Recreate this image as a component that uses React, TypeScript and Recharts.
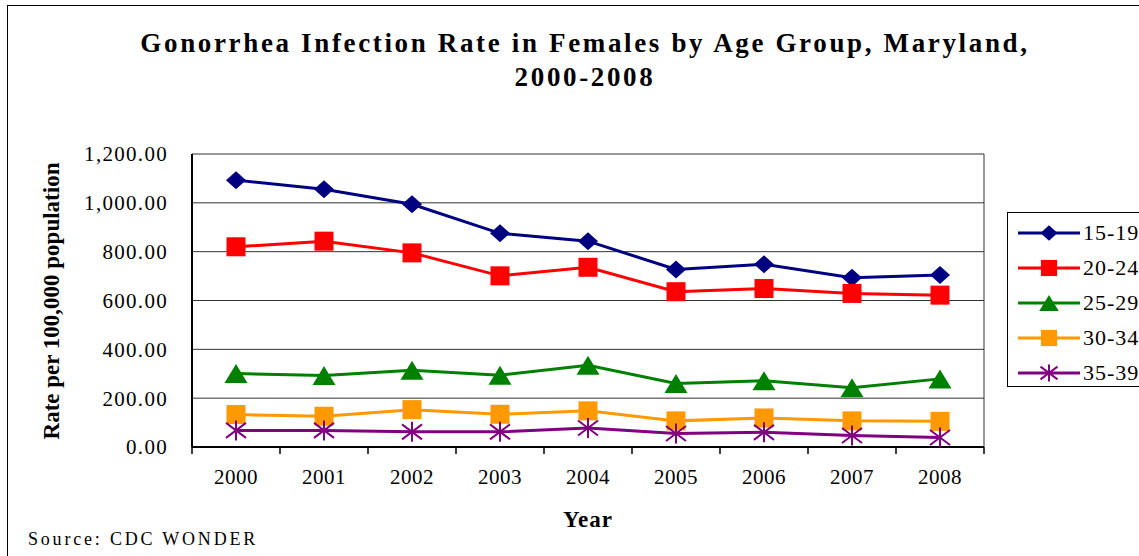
import React from 'react';
import { LineChart, Line, XAxis, YAxis, CartesianGrid } from 'recharts';

const years = ['2000', '2001', '2002', '2003', '2004', '2005', '2006', '2007', '2008'];
const rate15to19 = [1093, 1056, 994, 875, 843, 727, 748, 693, 704];
const rate20to24 = [820, 843, 795, 701, 736, 636, 649, 629, 622];
const rate25to29 = [301, 293, 314, 294, 335, 260, 271, 243, 279];
const rate30to34 = [133, 126, 153, 134, 148, 107, 119, 107, 105];
const rate35to39 = [68, 68, 62, 62, 78, 55, 60, 47, 39];
const yTicks = [0, 200, 400, 600, 800, 1000, 1200];

const FONT = '"Liberation Serif", "Times New Roman", serif';

type Marker = 'diamond' | 'square' | 'triangle' | 'star';

const series: { key: string; name: string; color: string; marker: Marker }[] = [
  { key: 'r1519', name: '15-19', color: '#000080', marker: 'diamond' },
  { key: 'r2024', name: '20-24', color: '#FF0000', marker: 'square' },
  { key: 'r2529', name: '25-29', color: '#008000', marker: 'triangle' },
  { key: 'r3034', name: '30-34', color: '#FF9900', marker: 'square' },
  { key: 'r3539', name: '35-39', color: '#800080', marker: 'star' },
];

const data = years.map((year, i) => ({
  pos: i + 0.5,
  year,
  r1519: rate15to19[i],
  r2024: rate20to24[i],
  r2529: rate25to29[i],
  r3034: rate30to34[i],
  r3539: rate35to39[i],
}));

// boundary ticks at integers, year labels at the half positions
const xTicks: number[] = [];
for (let i = 0; i <= years.length; i++) {
  xTicks.push(i);
  if (i < years.length) xTicks.push(i + 0.5);
}

function drawMarker(marker: Marker, color: string, cx: number, cy: number, s = 1) {
  if (marker === 'diamond') {
    const w = 10 * s, h = 9 * s;
    return <polygon points={`${cx},${cy - h} ${cx + w},${cy} ${cx},${cy + h} ${cx - w},${cy}`} fill={color} />;
  }
  if (marker === 'square') {
    const h = 9.5 * s;
    return <rect x={cx - h} y={cy - h} width={h * 2} height={h * 2} fill={color} />;
  }
  if (marker === 'triangle') {
    const w = 11.5 * s, h = 9.5 * s;
    return <polygon points={`${cx},${cy - h} ${cx + w},${cy + h} ${cx - w},${cy + h}`} fill={color} />;
  }
  const r = 10 * s;
  const d = r * 0.75;
  return (
    <g stroke={color} strokeWidth={2}>
      <line x1={cx} y1={cy - r} x2={cx} y2={cy + r} />
      <line x1={cx - r} y1={cy - d} x2={cx + r} y2={cy + d} />
      <line x1={cx - r} y1={cy + d} x2={cx + r} y2={cy - d} />
    </g>
  );
}

const XTick = (props: any) => {
  const { x, y, payload } = props;
  const v = payload.value as number;
  if (Number.isInteger(v)) {
    return <line x1={x} y1={y - 6} x2={x} y2={y + 1} stroke="#000" strokeWidth={1.5} />;
  }
  return (
    <text x={x} y={y + 31} textAnchor="middle" fontFamily={FONT} fontSize={21} fill="#000" letterSpacing={0.5}>
      {years[Math.floor(v)]}
    </text>
  );
};

const LegendBox = () => (
  <div
    style={{
      position: 'absolute',
      left: 1007,
      top: 212,
      border: '1px solid #000',
      background: '#fff',
      width: 160,
      height: 175,
      boxSizing: 'border-box',
      paddingTop: 2,
      fontFamily: FONT,
    }}
  >
    {series.map((s) => (
      <div key={s.key} style={{ display: 'flex', alignItems: 'center', height: 35 }}>
        <svg width={67} height={30} style={{ marginLeft: 8 }}>
          <line x1={2} y1={15} x2={64} y2={15} stroke={s.color} strokeWidth={3} />
          {drawMarker(s.marker, s.color, 33, 15, 0.85)}
        </svg>
        <span style={{ fontSize: 22, letterSpacing: 1, color: '#000' }}>{s.name}</span>
      </div>
    ))}
  </div>
);

export default function App() {
  return (
    <div
      style={{
        position: 'absolute',
        left: 0,
        top: 0,
        width: 1139,
        height: 556,
        overflow: 'hidden',
        background: '#fff',
        fontFamily: FONT,
      }}
    >
      <div
        style={{
          position: 'absolute',
          left: 7,
          top: 5,
          width: 1300,
          height: 700,
          border: '1px solid #000',
        }}
      />
      <div
        style={{
          position: 'absolute',
          left: 0,
          top: 26,
          width: 1170,
          textAlign: 'center',
          fontWeight: 'bold',
          fontSize: 27,
          lineHeight: '34px',
          letterSpacing: 2.65,
        }}
      >
        Gonorrhea Infection Rate in Females by Age Group, Maryland,
        <br />
        2000-2008
      </div>
      <div
        style={{
          position: 'absolute',
          left: 52,
          top: 301,
          transform: 'translate(-50%, -50%) rotate(-90deg)',
          whiteSpace: 'nowrap',
          fontWeight: 'bold',
          fontSize: 23,
        }}
      >
        Rate per 100,000 population
      </div>
      <div
        style={{
          position: 'absolute',
          left: 588,
          top: 520,
          transform: 'translate(-50%, -50%)',
          fontWeight: 'bold',
          fontSize: 23,
          letterSpacing: 1,
        }}
      >
        Year
      </div>
      <div
        style={{
          position: 'absolute',
          left: 28,
          top: 529,
          fontSize: 18,
          letterSpacing: 2.8,
        }}
      >
        Source: CDC WONDER
      </div>
      <div style={{ position: 'absolute', left: 0, top: 0 }}>
        <LineChart
          width={1139}
          height={556}
          data={data}
          margin={{ top: 154, right: 155, bottom: 69, left: 112 }}
        >
          <CartesianGrid
            stroke="#333"
            strokeWidth={1}
            verticalCoordinatesGenerator={({ offset }: any) => [offset.left + offset.width]}
          />
          <XAxis
            dataKey="pos"
            type="number"
            domain={[0, years.length]}
            ticks={xTicks}
            interval={0}
            tick={<XTick />}
            tickLine={false}
            tickSize={6}
            tickMargin={0}
            axisLine={{ stroke: '#000', strokeWidth: 2 }}
            height={40}
          />
          <YAxis
            domain={[0, 1200]}
            ticks={yTicks}
            interval={0}
            width={80}
            tickLine={false}
            tickSize={0}
            tickMargin={24}
            axisLine={{ stroke: '#000', strokeWidth: 2 }}
            tick={{ fill: '#000', fontSize: 21, fontFamily: FONT, letterSpacing: 1.3 }}
            tickFormatter={(v: number) =>
              v.toLocaleString('en-US', { minimumFractionDigits: 2, maximumFractionDigits: 2 })
            }
          />
          {series.map((s) => (
            <Line
              key={s.key}
              dataKey={s.key}
              name={s.name}
              stroke={s.color}
              strokeWidth={3}
              isAnimationActive={false}
              dot={(p: any) => <g key={`${s.key}-${p.index}`}>{drawMarker(s.marker, s.color, p.cx, p.cy)}</g>}
              activeDot={false}
            />
          ))}
        </LineChart>
      </div>
      <LegendBox />
    </div>
  );
}
